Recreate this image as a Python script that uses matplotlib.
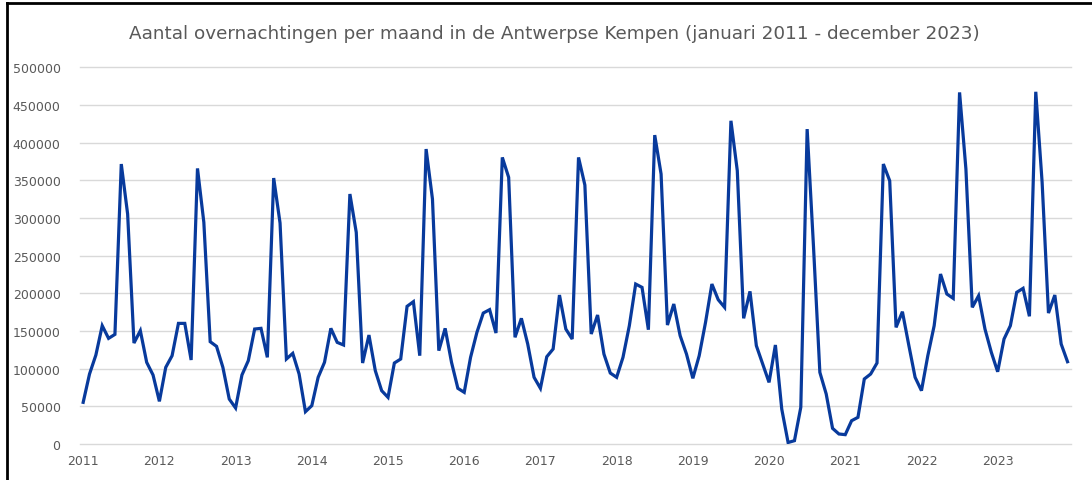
import matplotlib.pyplot as plt
from matplotlib.lines import Line2D

# Aantal overnachtingen per maand, januari t/m december
years = list(range(2011, 2024))
v2011 = [55300, 92900, 118100, 157000, 140200, 145500, 371600, 305200, 134000, 150400, 108400, 91600]
v2012 = [56600, 101700, 117200, 160100, 160100, 111500, 365800, 294200, 135800, 129600, 101700, 59700]
v2013 = [47800, 91600, 110600, 152600, 153500, 115000, 353000, 293300, 112800, 120300, 92900, 42900]
v2014 = [50900, 88500, 108400, 153500, 134900, 131400, 331800, 280900, 107500, 144600, 97300, 70800]
v2015 = [61900, 107500, 112800, 182700, 188900, 117200, 391500, 325100, 123900, 153500, 108400, 73900]
v2016 = [68600, 115000, 148200, 173800, 178300, 147300, 380400, 353900, 141600, 166800, 132700, 88500]
v2017 = [73900, 115800, 126100, 197700, 152600, 139300, 380400, 343700, 146000, 171200, 119400, 94200]
v2018 = [88500, 115000, 157000, 212300, 207900, 151700, 410000, 358300, 157900, 185800, 143800, 119400]
v2019 = [87200, 117200, 161500, 212300, 191500, 181400, 429000, 362700, 166800, 202600, 130500, 106200]
v2020 = [81800, 131400, 46400, 2000, 4400, 48700, 418000, 262000, 95100, 66400, 20800, 13300]
v2021 = [12400, 30900, 35400, 86300, 92900, 107500, 371600, 349400, 154800, 175600, 131400, 88500]
v2022 = [70800, 117200, 157000, 225600, 199100, 193300, 466700, 364900, 181400, 196800, 152600, 121700]
v2023 = [95900, 139300, 157000, 201300, 206600, 169500, 467500, 347300, 173800, 197700, 132700, 109200]

values = (v2011 + v2012 + v2013 + v2014 + v2015 + v2016 + v2017 + v2018
          + v2019 + v2020 + v2021 + v2022 + v2023)
months = list(range(len(values)))

fig = plt.figure(figsize=(10.92, 4.81), dpi=100)
ax = fig.add_axes([80 / 1092, 1 - 445 / 481, 990.7 / 1092, (445 - 68.3) / 481])

ax.plot(months, values, color='#083a9c', linewidth=2.3, solid_joinstyle='miter')

ax.set_xlim(-0.5, len(values) - 0.5)
ax.set_ylim(0, 500000)
ax.set_yticks(range(0, 500001, 50000))
ax.set_xticks([12 * i for i in range(len(years))])
ax.set_xticklabels([str(y) for y in years])
ax.yaxis.grid(True, color='#d9d9d9', linewidth=1)
for gl in ax.get_ygridlines():
    gl.set_clip_on(False)
ax.set_axisbelow(True)
for s in ax.spines.values():
    s.set_visible(False)
ax.tick_params(axis='both', length=0, labelsize=9, labelcolor='#595959')
ax.tick_params(axis='y', pad=14)
ax.tick_params(axis='x', pad=7)

fig.text(554 / 1092, 1 - 34 / 481,
         "Aantal overnachtingen per maand in de Antwerpse Kempen (januari 2011 - december 2023)",
         ha='center', va='center', fontsize=13.2, color='#595959')

# zwarte rand links en boven
fig.add_artist(Line2D([6.5 / 1092, 6.5 / 1092], [0, 1 - 4 / 481], color='black', linewidth=2))
fig.add_artist(Line2D([6.5 / 1092, 1], [1 - 4 / 481, 1 - 4 / 481], color='black', linewidth=2))

fig.savefig('out.png', dpi=100)
